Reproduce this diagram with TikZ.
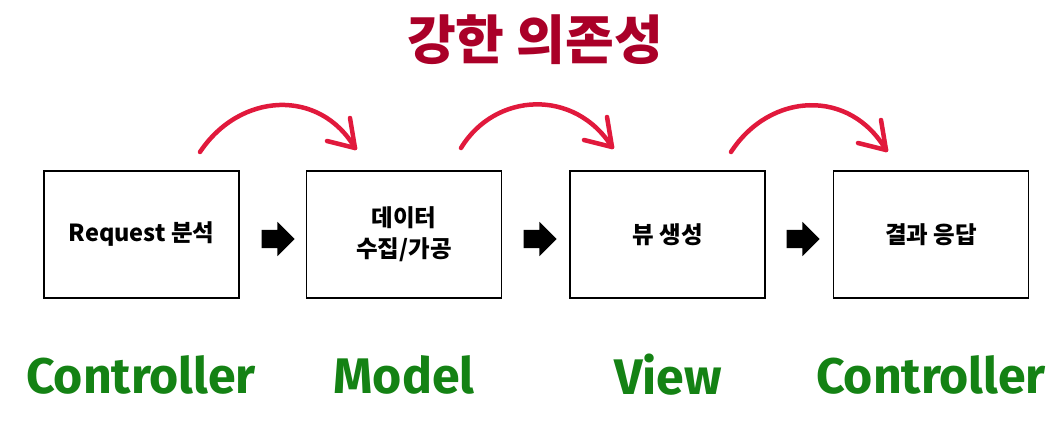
\documentclass[tikz,border=0pt]{standalone}
\usepackage{fontspec}
\setmainfont{Fira Sans}
\newfontfamily\kor{Noto Sans CJK KR}
\usetikzlibrary{shapes.arrows}
\definecolor{titlered}{RGB}{170,0,40}
\definecolor{curvered}{RGB}{225,25,60}
\definecolor{labelgreen}{RGB}{20,130,20}
\tikzset{
  stage/.style={draw, line width=1.6pt, minimum width=195pt, minimum height=127pt, align=center, font=\kor\bfseries\fontsize{23.5}{31}\selectfont},
  role/.style={text=labelgreen, font=\bfseries\fontsize{50}{54}\selectfont},
  flow/.style={single arrow, fill=black, minimum height=33pt, inner xsep=0pt, inner ysep=9pt, single arrow head extend=8pt},
  redcurve/.style={draw=curvered, line width=4.5pt, line cap=round, line join=round}
}
\begin{document}
\begin{tikzpicture}[x=1pt, y=-1pt]
\useasboundingbox (0,0) rectangle (1056,430);

\node[text=titlered, font=\kor\bfseries\fontsize{53}{60}\selectfont] (title) at (535,40) {강한 의존성};

\node[stage] (req) at (141.5,234.5) {Request 분석};
\node[stage] (data) at (404,234.5) {데이터\\수집/가공};
\node[stage] (view) at (667.5,234.5) {뷰 생성};
\node[stage] (resp) at (931,234.5) {결과 응답};

\node[flow] (f1) at (273.5,239) {};
\node[flow] (f2) at (535.5,239) {};
\node[flow] (f3) at (798.5,239) {};

\node[role] (c1) at (141,375) {Controller};
\node[role] (m) at (404,375) {Model};
\node[role] (v) at (668,375) {View};
\node[role] (c2) at (931,375) {Controller};

% red curves
\coordinate (a1) at (200,152);
\coordinate (b1) at (355,148);
\coordinate (a2) at (461,148);
\coordinate (b2) at (612,147);
\coordinate (a3) at (731,152);
\coordinate (b3) at (886,150);
\draw[redcurve] (a1) .. controls (240,92) and (320,88) .. (b1);
\draw[redcurve] (b1) -- ++(-28,-7);
\draw[redcurve] (b1) -- ++(-5,-30);
\draw[redcurve] (a2) .. controls (495,92) and (575,88) .. (b2);
\draw[redcurve] (b2) -- ++(-28,-7);
\draw[redcurve] (b2) -- ++(-5,-30);
\draw[redcurve] (a3) .. controls (770,92) and (850,88) .. (b3);
\draw[redcurve] (b3) -- ++(-28,-7);
\draw[redcurve] (b3) -- ++(-5,-30);
\end{tikzpicture}
\end{document}
